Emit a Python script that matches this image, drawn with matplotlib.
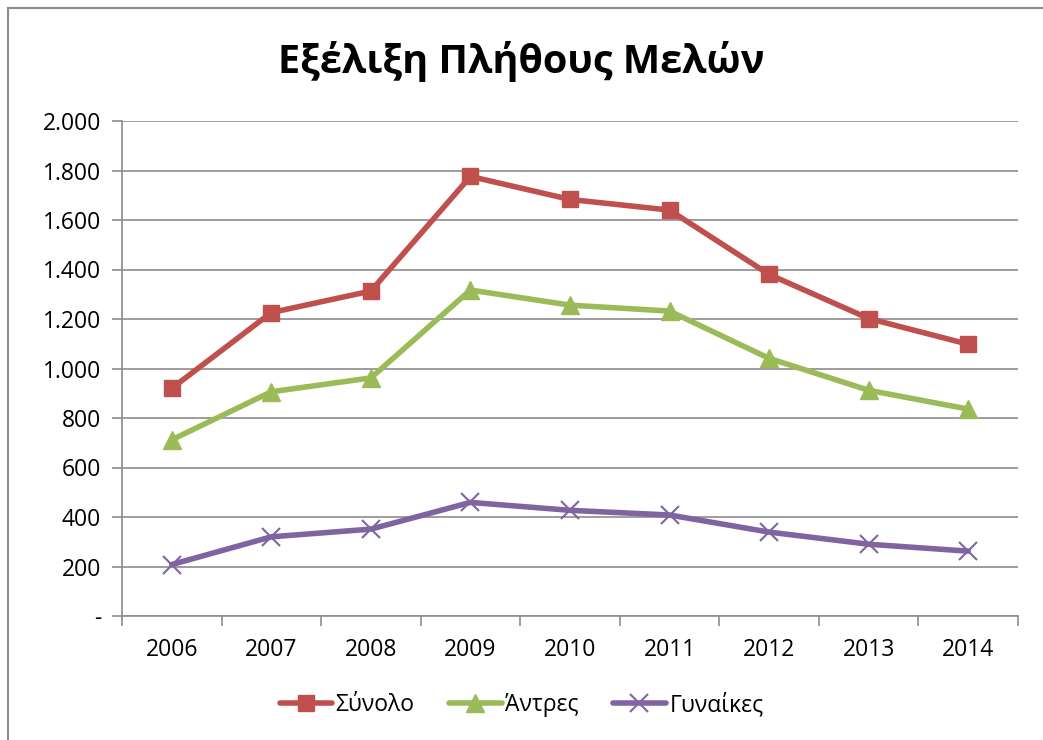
import matplotlib
matplotlib.use("Agg")
import matplotlib.pyplot as plt
from matplotlib.patches import Rectangle
from matplotlib.ticker import FuncFormatter, FixedLocator

plt.rcParams["font.family"] = ["Open Sans", "Noto Sans", "DejaVu Sans"]

years = ["2006", "2007", "2008", "2009", "2010", "2011", "2012", "2013", "2014"]
total = [920, 1226, 1313, 1776, 1683, 1640, 1380, 1202, 1098]
men = [712, 906, 962, 1317, 1256, 1232, 1041, 912, 836]
women = [208, 320, 351, 459, 427, 408, 339, 290, 262]

fig = plt.figure(figsize=(10.43, 7.40), dpi=100)
ax = fig.add_axes([122 / 1043, 1 - 616 / 740, (1018 - 122) / 1043, (616 - 121) / 740])

# outer chart frame (Excel style)
fig.patches.append(Rectangle((8 / 1043, -0.05), 1.1, 1.05 - 8 / 740, transform=fig.transFigure,
                             fill=False, edgecolor="#8c8c8c", linewidth=1.5))

x = list(range(len(years)))
ax.plot(x, total, color="#C0504D", lw=4, marker="s", ms=12, label="Σύνολο", solid_capstyle="round")
ax.plot(x, men, color="#9BBB59", lw=4, marker="^", ms=13, label="Άντρες", solid_capstyle="round")
ax.plot(x, women, color="#8064A2", lw=4, marker="x", ms=13, mew=1.5, label="Γυναίκες", solid_capstyle="round")

ax.set_xlim(-0.5, len(years) - 0.5)
ax.set_ylim(0, 2000)
ax.set_yticks(range(0, 2001, 200))
ax.yaxis.set_major_formatter(FuncFormatter(lambda v, p: "-" if v == 0 else f"{int(v):,}".replace(",", ".")))
ax.set_xticks(x)
ax.set_xticklabels(years)
ax.xaxis.set_minor_locator(FixedLocator([i - 0.5 for i in range(len(years) + 1)]))
ax.tick_params(axis="x", which="major", length=0, pad=16, labelsize=16.5)
ax.tick_params(axis="x", which="minor", length=7, color="#8c8c8c", width=1.2)
ax.tick_params(axis="y", length=7, color="#8c8c8c", width=1.2, labelsize=16.5, pad=8)

ax.grid(axis="y", color="#8c8c8c", lw=1.2)
ax.set_axisbelow(True)
for s in ["top", "right"]:
    ax.spines[s].set_visible(False)
for s in ["left", "bottom"]:
    ax.spines[s].set_color("#8c8c8c")
    ax.spines[s].set_linewidth(1.2)

fig.text(0.5, 1 - 62 / 740, "Εξέλιξη Πλήθους Μελών", ha="center", va="center",
         fontsize=28.5, fontweight="bold")

fig.legend(loc="center", bbox_to_anchor=(0.5, 1 - 705 / 740), ncol=3, frameon=False,
           fontsize=16.5, handlelength=2.3, columnspacing=1.5, handletextpad=0.15)

fig.savefig("out.png", dpi=100)
